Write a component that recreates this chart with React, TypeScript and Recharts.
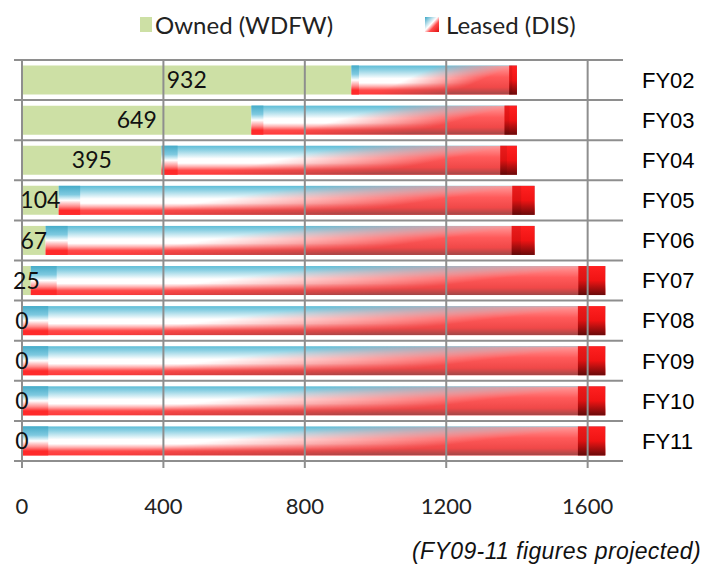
import { BarChart, Bar, XAxis, YAxis, CartesianGrid, ReferenceLine, LabelList, Legend } from 'recharts'

const years = ['FY02', 'FY03', 'FY04', 'FY05', 'FY06', 'FY07', 'FY08', 'FY09', 'FY10', 'FY11']
const owned = [932, 649, 395, 104, 67, 25, 0, 0, 0, 0]
const leased = [468, 751, 1005, 1346, 1383, 1625, 1650, 1650, 1650, 1650]
const xTicks = [0, 400, 800, 1200, 1600]

const data = years.map((fy, i) => ({ fy, owned: owned[i], leased: leased[i] }))

const GREEN = '#cde0a5'
const GRID = '#8e8e8e'
const calibriLike = 'Lato, "Open Sans", sans-serif'
const arialLike = '"Liberation Sans", Arial, sans-serif'

// leased bars: blue/white/red body that turns fully red toward the end, with caps at both ends
function LeasedBar(props: any) {
  const { x, y, width, height } = props
  if (!width || width <= 0) return null
  const cap = width * 0.047
  const start = width * 0.045
  return (
    <g>
      <rect x={x} y={y} width={width} height={height} fill="url(#leasedBase)" />
      <rect x={x} y={y} width={width} height={height} fill="url(#leasedRed)" mask="url(#leasedMask)" />
      <rect x={x} y={y} width={start} height={height} fill="url(#leasedStart)" />
      <rect x={x + width - cap} y={y} width={cap} height={height} fill="url(#leasedCap)" />
      <rect x={x + width - cap} y={y} width={cap * 0.4} height={height} fill="#000" fillOpacity={0.08} />
    </g>
  )
}

const renderLegend = () => (
  <div style={{ height: 48, display: 'flex', alignItems: 'center', paddingLeft: 140, fontFamily: calibriLike, fontSize: 24, color: '#222' }}>
    <span style={{ display: 'inline-block', width: 12, height: 15, background: GREEN, marginRight: 3 }} />
    <span>Owned (WDFW)</span>
    <svg width={14} height={15} style={{ marginLeft: 92, marginRight: 7 }}>
      <defs>
        <linearGradient id="legLeased" x1="0" y1="0" x2="1" y2="1">
          <stop offset="0" stopColor="#3aa6c6" />
          <stop offset="0.45" stopColor="#ffffff" />
          <stop offset="0.65" stopColor="#ff4a4a" />
          <stop offset="1" stopColor="#e01010" />
        </linearGradient>
      </defs>
      <rect width={14} height={15} fill="url(#legLeased)" />
    </svg>
    <span>Leased (DIS)</span>
  </div>
)

export default function App() {
  return (
    <div style={{ position: 'absolute', left: 0, top: 0, width: 707, height: 567, background: '#fff' }}>
      <BarChart
        width={707}
        height={567}
        data={data}
        layout="vertical"
        barCategoryGap="13.8%"
        margin={{ top: 12, right: 0, bottom: 46, left: 22 }}
      >
        <defs>
          <linearGradient id="leasedBase" x1="0" y1="0" x2="0" y2="1">
            <stop offset="0" stopColor="#5fbdd7" />
            <stop offset="0.15" stopColor="#8ed1e3" />
            <stop offset="0.45" stopColor="#ffffff" />
            <stop offset="0.6" stopColor="#ffffff" />
            <stop offset="0.72" stopColor="#ffb0b0" />
            <stop offset="0.85" stopColor="#ff4a4a" />
            <stop offset="1" stopColor="#ff3a3a" />
          </linearGradient>
          <linearGradient id="leasedStart" x1="0" y1="0" x2="0" y2="1">
            <stop offset="0" stopColor="#45abc8" />
            <stop offset="0.3" stopColor="#7fcae0" />
            <stop offset="0.5" stopColor="#ffffff" />
            <stop offset="0.7" stopColor="#ff9090" />
            <stop offset="0.85" stopColor="#ff2a2a" />
            <stop offset="1" stopColor="#ff2a2a" />
          </linearGradient>
          <linearGradient id="leasedRed" x1="0" y1="0" x2="0" y2="1">
            <stop offset="0" stopColor="#ff9c9c" />
            <stop offset="0.4" stopColor="#ff5a5a" />
            <stop offset="0.75" stopColor="#f04848" />
            <stop offset="1" stopColor="#a04848" />
          </linearGradient>
          <linearGradient id="leasedMaskGrad" x1="0" y1="0" x2="1" y2="0.4">
            <stop offset="0.45" stopColor="#000" />
            <stop offset="0.85" stopColor="#fff" />
          </linearGradient>
          <mask id="leasedMask" maskContentUnits="objectBoundingBox">
            <rect x={0} y={0} width={1} height={1} fill="url(#leasedMaskGrad)" />
          </mask>
          <linearGradient id="leasedCap" x1="0" y1="0" x2="0" y2="1">
            <stop offset="0" stopColor="#ff2020" />
            <stop offset="0.5" stopColor="#f01414" />
            <stop offset="1" stopColor="#6a0a0a" />
          </linearGradient>
        </defs>
        <Legend verticalAlign="top" content={renderLegend} wrapperStyle={{ top: 0, left: 0, width: 707 }} />
        <CartesianGrid
          vertical={false}
          stroke={GRID}
          strokeWidth={2}
          x={14}
          width={609}
          horizontalCoordinatesGenerator={({ offset }: any) =>
            years.map((_, i) => offset.top + (i * offset.height) / years.length).concat(offset.top + offset.height)
          }
        />
        <XAxis
          type="number"
          domain={[0, 1700]}
          ticks={xTicks}
          axisLine={{ stroke: GRID, strokeWidth: 2 }}
          tickLine={{ stroke: GRID, strokeWidth: 2 }}
          tickSize={7}
          tickMargin={30}
          height={60}
          tick={{ fill: '#222', fontSize: 22, fontFamily: calibriLike }}
        />
        <YAxis
          type="category"
          dataKey="fy"
          orientation="right"
          width={84}
          axisLine={false}
          tickLine={false}
          tickSize={0}
          tickMargin={19}
          tick={{ fill: '#000', fontSize: 22, fontFamily: arialLike }}
        />
        <Bar dataKey="owned" stackId="a" fill={GREEN} minPointSize={0.01} isAnimationActive={false}>
          <LabelList dataKey="owned" position="center" fill="#111" fontSize={23} fontFamily={calibriLike} />
        </Bar>
        <Bar dataKey="leased" stackId="a" shape={LeasedBar} isAnimationActive={false} />
        {xTicks.map(t => (
          <ReferenceLine key={t} x={t} stroke={GRID} strokeWidth={2} ifOverflow="visible" />
        ))}
      </BarChart>
      <div style={{ position: 'absolute', right: 6, top: 538, fontFamily: arialLike, fontStyle: 'italic', fontSize: 23, letterSpacing: 0.4, color: '#111' }}>
        (FY09-11 figures projected)
      </div>
    </div>
  )
}
